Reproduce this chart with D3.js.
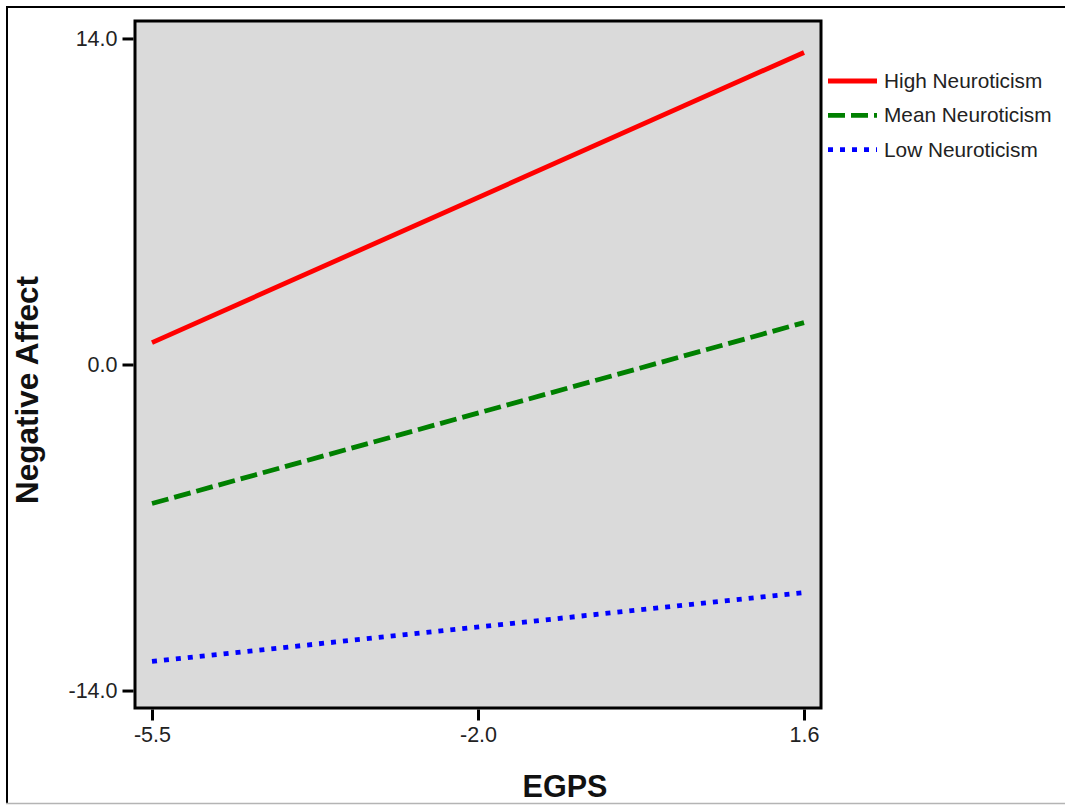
<!DOCTYPE html>
<html>
<head>
<meta charset="utf-8">
<script src="https://cdn.jsdelivr.net/npm/d3@7/dist/d3.min.js"></script>
<style>
  body { margin: 0; background: #fff; }
  svg { display: block; font-family: Arial, "Liberation Sans", sans-serif; }
</style>
</head>
<body>
<svg id="chart" width="1065" height="805"></svg>
<script>
// values
const xEnds = [-5.5, 1.6];
const seriesNames = ['High Neuroticism', 'Mean Neuroticism', 'Low Neuroticism'];
const highVals = [0.94, 13.4];
const meanVals = [-5.97, 1.8];
const lowVals = [-12.75, -9.79];
const xTickVals = [-5.5, -1.95, 1.6];
const xTickLabels = ['-5.5', '-2.0', '1.6'];
const yTickVals = [14, 0, -14];
const yTickLabels = ['14.0', '0.0', '-14.0'];

const styles = [
  { color: '#ff0000', dash: null },
  { color: '#008000', dash: '17,6' },
  { color: '#0000ff', dash: '5,7' }
];
const allVals = [highVals, meanVals, lowVals];

const svg = d3.select('#chart');
const plot = { left: 135, right: 821, top: 21, bottom: 708 };

// outer frame
svg.append('line').attr('x1', 6).attr('x2', 1065).attr('y1', 7).attr('y2', 7)
  .attr('stroke', '#000').attr('stroke-width', 2);
svg.append('line').attr('x1', 7).attr('x2', 7).attr('y1', 6).attr('y2', 804)
  .attr('stroke', '#000').attr('stroke-width', 2);
svg.append('line').attr('x1', 6).attr('x2', 1065).attr('y1', 803.5).attr('y2', 803.5)
  .attr('stroke', '#b4b4b4').attr('stroke-width', 1.5);

const x = d3.scaleLinear().domain([-5.685, 1.785]).range([plot.left, plot.right]);
const y = d3.scaleLinear().domain([-14.75, 14.75]).range([plot.bottom, plot.top]);

// plot background
svg.append('rect')
  .attr('x', plot.left).attr('y', plot.top)
  .attr('width', plot.right - plot.left).attr('height', plot.bottom - plot.top)
  .attr('fill', '#dadada');

// lines
const line = d3.line().x((d, i) => x(xEnds[i])).y(d => y(d));
allVals.forEach((vals, k) => {
  svg.append('path')
    .datum(vals)
    .attr('d', line)
    .attr('fill', 'none')
    .attr('stroke', styles[k].color)
    .attr('stroke-width', 4.8)
    .attr('stroke-dasharray', styles[k].dash);
});

// frame of plot
svg.append('rect')
  .attr('x', plot.left).attr('y', plot.top)
  .attr('width', plot.right - plot.left).attr('height', plot.bottom - plot.top)
  .attr('fill', 'none').attr('stroke', '#000').attr('stroke-width', 3);

// axes
const xAxis = svg.append('g')
  .attr('transform', `translate(0,${plot.bottom + 1.5})`)
  .call(d3.axisBottom(x).tickValues(xTickVals)
    .tickFormat((d, i) => xTickLabels[i]).tickSize(11).tickPadding(6).tickSizeOuter(0));
const yAxis = svg.append('g')
  .attr('transform', `translate(${plot.left - 1.5},0)`)
  .call(d3.axisLeft(y).tickValues(yTickVals)
    .tickFormat((d, i) => yTickLabels[i]).tickSize(11).tickPadding(5).tickSizeOuter(0));
[xAxis, yAxis].forEach(g => {
  g.select('.domain').remove();
  g.selectAll('line').attr('stroke', '#000').attr('stroke-width', 3);
  g.selectAll('text').attr('fill', '#222').attr('font-size', 21.5)
    .attr('font-family', 'Arial, "Liberation Sans", sans-serif');
});

// axis titles
svg.append('text')
  .attr('x', 565).attr('y', 797)
  .attr('text-anchor', 'middle')
  .attr('font-size', 30.5).attr('font-weight', 'bold').attr('fill', '#111')
  .text('EGPS');
svg.append('text')
  .attr('transform', 'translate(38,390) rotate(-90)')
  .attr('text-anchor', 'middle')
  .attr('font-size', 31.5).attr('font-weight', 'bold').attr('fill', '#111')
  .text('Negative Affect');

// legend
const legend = svg.append('g').attr('transform', 'translate(828,81)');
seriesNames.forEach((name, k) => {
  const g = legend.append('g').attr('transform', `translate(0,${k * 34.3})`);
  g.append('line').attr('x1', 0).attr('x2', 49).attr('y1', 0).attr('y2', 0)
    .attr('stroke', styles[k].color).attr('stroke-width', 4.8)
    .attr('stroke-dasharray', styles[k].dash);
  g.append('text').attr('x', 56).attr('y', 7)
    .attr('font-size', 20.8).attr('fill', '#222')
    .text(name);
});
</script>
</body>
</html>
